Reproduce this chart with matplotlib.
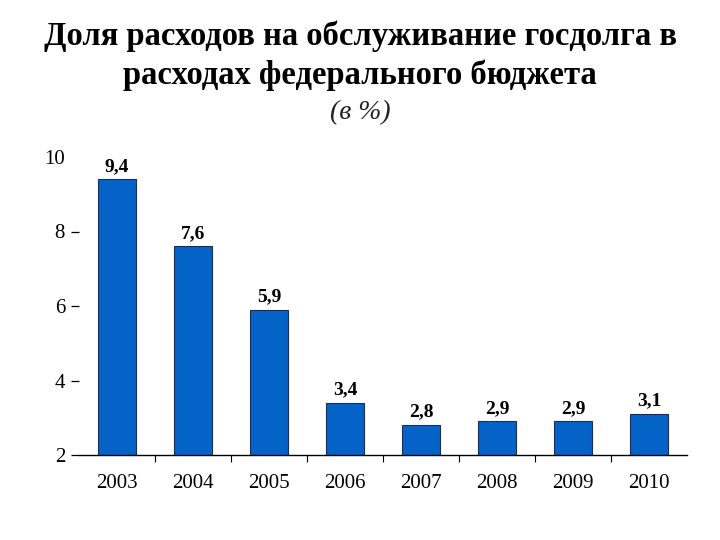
import numpy as np
import matplotlib
matplotlib.use('Agg')
import matplotlib.pyplot as plt
from matplotlib.ticker import FixedLocator

# data
years = ['2003', '2004', '2005', '2006', '2007', '2008', '2009', '2010']
share = [9.4, 7.6, 5.9, 3.4, 2.8, 2.9, 2.9, 3.1]
labels = ['9,4', '7,6', '5,9', '3,4', '2,8', '2,9', '2,9', '3,1']
yticks = [2, 4, 6, 8, 10]

plt.rcParams['font.family'] = ['Liberation Serif', 'DejaVu Serif']

fig = plt.figure(figsize=(7.2, 5.4), dpi=100)
ax = fig.add_axes([79 / 720, 1 - 455 / 540, 608 / 720, 298 / 540])

x = np.arange(len(years))
ax.bar(x, share, width=0.5, bottom=0, color='#0563C8', edgecolor='#1a2f55', linewidth=0.8, zorder=2)

for xi, v, t in zip(x, share, labels):
    ax.text(xi, v + 0.12, t, ha='center', va='bottom', fontsize=14, fontweight='bold')

ax.set_ylim(2, 10)
ax.set_xlim(-0.5, len(years) - 0.5)
ax.set_yticks(yticks)
ax.set_yticklabels([str(v) for v in yticks])
ax.set_xticks(x)
ax.set_xticklabels(years)
ax.xaxis.set_minor_locator(FixedLocator(np.arange(0.5, len(years) - 0.5, 1)))

for s in ['top', 'right', 'left']:
    ax.spines[s].set_visible(False)
ax.spines['bottom'].set_linewidth(1.0)

ax.tick_params(axis='y', direction='out', length=6, width=0.9, pad=4, labelsize=15)
ax.tick_params(axis='x', which='major', length=0, pad=14, labelsize=15)
ax.tick_params(axis='x', which='minor', direction='out', length=5, width=0.8)
for t in ax.yaxis.get_major_ticks():
    if t.get_loc() == 10:
        t.tick1line.set_visible(False)

fig.text(0.5, 1 - 56 / 540, 'Доля расходов на обслуживание госдолга в\nрасходах федерального бюджета',
         ha='center', va='center', fontsize=23.5, fontweight='bold', linespacing=1.3)
fig.text(0.5, 1 - 113 / 540, '(в %)', ha='center', va='center', fontsize=20, fontstyle='italic', color='#222222')

fig.savefig('out.png', dpi=100)
